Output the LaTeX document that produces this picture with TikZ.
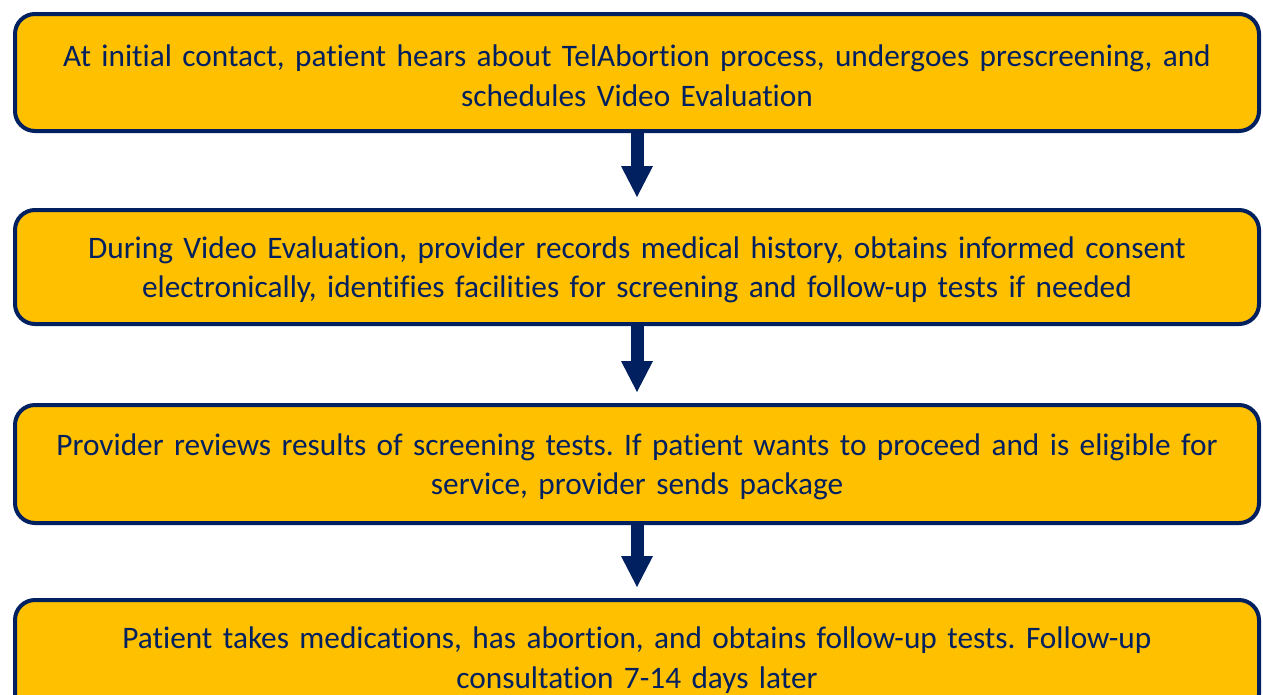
\documentclass[tikz,border=0pt]{standalone}
\usepackage{fontspec}
\setmainfont{Carlito}[Ligatures=NoCommon]
\usetikzlibrary{arrows.meta,calc}
\definecolor{navy}{HTML}{002060}
\definecolor{gold}{HTML}{FFC000}
\frenchspacing
\begin{document}
\begin{tikzpicture}[x=1pt,y=-1pt,
  box/.style={draw=navy, fill=gold, line width=4pt, rounded corners=20pt,
    minimum width=1244pt, inner sep=0pt},
  lbl/.style={text width=1220pt, align=center, text=navy, inner sep=0pt,
    font=\fontsize{31.3}{39.5}\selectfont\frenchspacing, yshift=-3pt},
  flow/.style={draw=navy, fill=navy, line width=13pt,
    -{Triangle[width=32pt,length=31pt,line width=0pt]}}]
\useasboundingbox (0,0) rectangle (1263,694);
\node[box, minimum height=117pt, label={[lbl]center:{At initial contact, patient hears about TelAbortion process, undergoes prescreening, and\\ schedules Video Evaluation}}] (b1) at (637,72.5) {};
\node[box, minimum height=114pt, label={[lbl]center:{During Video Evaluation, provider records medical history, obtains informed consent\\ electronically, identifies facilities for screening and follow-up tests if needed}}] (b2) at (637,267) {};
\node[box, minimum height=118pt, label={[lbl]center:{Provider reviews results of screening tests. If patient wants to proceed and is eligible for\\ service, provider sends package}}] (b3) at (637,464) {};
\node[box, minimum height=114pt, label={[lbl]center:{Patient takes medications, has abortion, and obtains follow-up tests. Follow-up\\ consultation 7-14 days later}}] (b4) at (637,657) {};
\draw[flow] (b1.south) -- ($(b2.north)+(0,-11)$);
\draw[flow] (b2.south) -- ($(b3.north)+(0,-11)$);
\draw[flow] (b3.south) -- ($(b4.north)+(0,-11)$);
\end{tikzpicture}
\end{document}
